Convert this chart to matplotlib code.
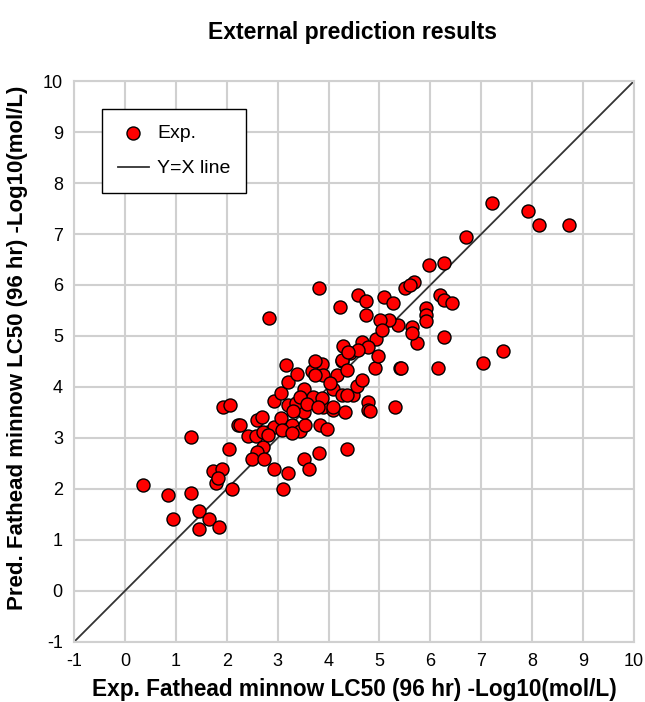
# scatter of experimental vs predicted LC50 values
import numpy as np
import matplotlib.pyplot as plt

plt.rcParams['font.family'] = ['Liberation Sans', 'DejaVu Sans']
plt.rcParams['axes.unicode_minus'] = False

# experimental values (x)
exp_vals = [0.36, 0.84, 1.30, 0.95, 1.46, 1.66, 1.46, 1.85, 2.10, 1.30, 1.78, 1.74, 1.90, 1.82, 2.05, 1.93, 2.06, 2.23,
            2.26, 2.42, 2.59, 2.69, 2.58, 2.71, 2.59, 2.49, 2.73, 2.92, 3.21, 3.11, 2.82, 2.92, 3.07, 2.92, 3.07, 3.21,
            3.21, 3.17, 3.39, 3.28, 3.43, 3.54, 3.51, 3.62, 3.82, 4.37, 3.51, 3.51, 3.70, 3.83, 3.96, 3.90, 3.67, 3.88,
            3.90, 4.09, 4.09, 4.32, 4.26, 4.49, 4.55, 4.29, 4.42, 4.26, 4.16, 4.03, 3.37, 3.44, 3.57, 3.31, 2.72, 2.82,
            3.08, 3.28, 3.73, 3.73, 4.26, 4.36, 4.91, 4.98, 5.40, 4.65, 4.36, 3.87, 3.80, 4.09, 4.78, 4.78, 5.31,
            7.21, 7.91, 8.14, 8.73, 6.69, 5.98, 6.26, 5.68, 5.50, 5.60, 4.57, 4.74, 5.08, 5.27, 6.18, 6.26, 6.42,
            5.91, 5.91, 5.91, 6.26, 5.74, 5.63, 5.63, 5.37, 5.18, 5.01, 4.74, 4.23, 4.93, 7.43, 7.04, 5.43, 6.14,
            2.84, 3.82, 5.05, 4.65, 4.78, 4.58, 4.39, 4.82]
# predicted values (y)
pred_vals = [2.07, 1.88, 1.92, 1.42, 1.57, 1.42, 1.22, 1.26, 1.99, 3.01, 2.11, 2.36, 2.39, 2.21, 2.78, 3.61, 3.65, 3.25,
             3.25, 3.03, 3.35, 3.42, 3.04, 2.83, 2.73, 2.59, 2.59, 2.39, 2.31, 2.00, 3.12, 3.21, 3.39, 3.73, 3.89, 3.65,
             4.10, 4.44, 4.25, 3.25, 3.14, 3.25, 2.59, 2.39, 2.70, 2.78, 3.96, 3.50, 3.80, 3.25, 3.17, 3.61, 4.32, 4.45,
             4.24, 3.96, 3.54, 3.50, 3.84, 3.84, 4.01, 4.80, 4.66, 4.50, 4.24, 4.07, 3.68, 3.81, 3.66, 3.53, 3.11, 3.06,
             3.16, 3.09, 4.50, 4.24, 4.53, 4.33, 4.37, 4.60, 4.37, 4.14, 3.84, 3.78, 3.61, 3.61, 3.71, 3.55, 3.61,
             7.60, 7.46, 7.18, 7.18, 6.95, 6.39, 6.44, 6.06, 5.94, 6.00, 5.80, 5.69, 5.76, 5.64, 5.80, 5.71, 5.64,
             5.54, 5.41, 5.30, 4.99, 4.86, 5.18, 5.05, 5.22, 5.31, 5.31, 5.41, 5.57, 4.95, 4.71, 4.48, 4.38, 4.38,
             5.35, 5.94, 5.12, 4.89, 4.79, 4.73, 4.69, 3.52]

line_ends = [-1, 10]

fig = plt.figure(figsize=(6.45, 7.02), dpi=100)
ax = fig.add_axes([0.1147, 0.0855, 0.8683, 0.7991])

ax.scatter(exp_vals, pred_vals, s=88, color='#ff0000', edgecolor='black', linewidth=1.0,
           label='Exp.', zorder=3)
ax.plot(line_ends, line_ends, color='#333333', linewidth=1.3, label='Y=X line', zorder=2)

ax.set_xlim(-1, 10)
ax.set_ylim(-1, 10)
ax.set_xticks(range(-1, 11))
ax.set_yticks(range(-1, 11))
ax.grid(True, color='#d0d0d0', linewidth=1.5)
ax.set_axisbelow(True)
for s in ax.spines.values():
    s.set_color('#d0d0d0')
    s.set_linewidth(1.5)
ax.tick_params(length=0, labelsize=13, pad=8)

ax.set_xlabel('Exp. Fathead minnow LC50 (96 hr) -Log10(mol/L)', fontsize=16.3, fontweight='bold', labelpad=6)
ax.set_ylabel('Pred. Fathead minnow LC50 (96 hr) -Log10(mol/L)', fontsize=16, fontweight='bold')
ax.yaxis.set_label_coords(-0.082, 0.525)
fig.text(0.546, 0.953, 'External prediction results', ha='center', va='center', fontsize=16.6, fontweight='bold')

leg = ax.legend(loc='upper left', bbox_to_anchor=(0.05, 0.95), fontsize=14, fancybox=False,
                framealpha=1, edgecolor='black', borderpad=0.8, handlelength=1.6,
                handletextpad=0.45, labelspacing=0.9, borderaxespad=0)
leg.get_frame().set_linewidth(1.0)

plt.savefig('out.png', dpi=100)
